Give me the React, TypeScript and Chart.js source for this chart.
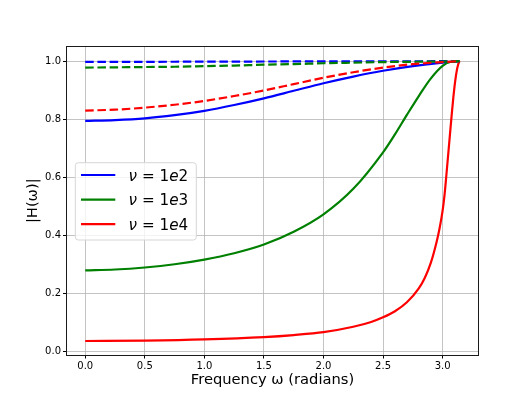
import React, { useEffect, useRef } from 'react';
import { Chart, registerables } from 'chart.js';

Chart.register(...registerables);

const FONT = "'DejaVu Sans', 'Liberation Sans', sans-serif";

// Frequency samples (radians)
const xCoarse = [0, 0.25, 0.5, 0.75, 1.0, 1.25, 1.5, 1.75, 2.0, 2.25, 2.5, 2.75, 3.0, 3.1416];
const xGreen = [0, 0.25, 0.5, 0.75, 1.0, 1.25, 1.5, 1.75, 2.0, 2.25, 2.5, 2.6, 2.7, 2.8, 2.9, 3.0, 3.07, 3.1416];
const xRed = [0, 0.5, 1.0, 1.5, 1.75, 2.0, 2.25, 2.4, 2.5, 2.6, 2.7, 2.8, 2.85, 2.9, 2.95, 2.975, 3.0, 3.015, 3.03, 3.045, 3.06, 3.075, 3.09, 3.105, 3.12, 3.13, 3.1416];

// Solid curves
const blueSolid = [0.794, 0.797, 0.803, 0.814, 0.829, 0.849, 0.872, 0.898, 0.924, 0.947, 0.967, 0.983, 0.995, 1.0];
const greenSolid = [0.279, 0.282, 0.289, 0.300, 0.316, 0.338, 0.368, 0.412, 0.472, 0.560, 0.686, 0.748, 0.815, 0.880, 0.940, 0.984, 0.998, 1.0];
const redSolid = [0.0355, 0.037, 0.041, 0.049, 0.056, 0.066, 0.0845, 0.101, 0.117, 0.138, 0.169, 0.217, 0.253, 0.304, 0.378, 0.425, 0.485, 0.535, 0.6, 0.67, 0.74, 0.81, 0.875, 0.93, 0.97, 0.988, 1.0];

// Dashed curves
const blueDashed = [0.998, 0.998, 0.998, 0.9982, 0.9985, 0.9987, 0.999, 0.9992, 0.9994, 0.9996, 0.9998, 0.9999, 1.0, 1.0];
const greenDashed = [0.978, 0.979, 0.980, 0.981, 0.983, 0.985, 0.988, 0.990, 0.993, 0.995, 0.997, 0.998, 0.999, 1.0];
const redDashed = [0.830, 0.833, 0.840, 0.850, 0.863, 0.880, 0.899, 0.921, 0.943, 0.962, 0.978, 0.990, 0.997, 1.0];

const legendLabels = ['ν = 1e2', 'ν = 1e3', 'ν = 1e4'];
const xTicks = [0, 0.5, 1.0, 1.5, 2.0, 2.5, 3.0];
const xTickLabels = ['0.0', '0.5', '1.0', '1.5', '2.0', '2.5', '3.0'];
const yTicks = [0, 0.2, 0.4, 0.6, 0.8, 1.0];
const yTickLabels = ['0.0', '0.2', '0.4', '0.6', '0.8', '1.0'];

const BLUE = '#0000ff';
const GREEN = '#008000';
const RED = '#ff0000';

function pts(xs: number[], ys: number[]) {
  return xs.map((x, i) => ({ x, y: ys[i] }));
}

function drawMathLabel(ctx: CanvasRenderingContext2D, text: string, x: number, y: number, size: number) {
  let cx = x;
  for (const ch of text) {
    const italic = ch === 'ν' || ch === 'e';
    ctx.font = `${italic ? 'italic ' : ''}${size}px ${FONT}`;
    ctx.fillText(ch, cx, y);
    cx += ctx.measureText(ch).width;
  }
}

const framePlugin = {
  id: 'frameAndLegend',
  afterDatasetsDraw(chart: any) {
    const { ctx, chartArea: ca } = chart;
    ctx.save();
    // frame
    ctx.strokeStyle = '#1a1a1a';
    ctx.lineWidth = 1;
    ctx.strokeRect(Math.round(ca.left) - 0.5, Math.round(ca.top) - 0.5, Math.round(ca.right - ca.left) + 1, Math.round(ca.bottom - ca.top) + 1);

    // legend
    const bx = ca.left + 8.3;
    const by = ca.top + 115.7;
    const bw = 121;
    const bh = 77.3;
    const r = 3;
    ctx.beginPath();
    ctx.moveTo(bx + r, by);
    ctx.lineTo(bx + bw - r, by);
    ctx.quadraticCurveTo(bx + bw, by, bx + bw, by + r);
    ctx.lineTo(bx + bw, by + bh - r);
    ctx.quadraticCurveTo(bx + bw, by + bh, bx + bw - r, by + bh);
    ctx.lineTo(bx + r, by + bh);
    ctx.quadraticCurveTo(bx, by + bh, bx, by + bh - r);
    ctx.lineTo(bx, by + r);
    ctx.quadraticCurveTo(bx, by, bx + r, by);
    ctx.closePath();
    ctx.fillStyle = 'rgba(255,255,255,0.8)';
    ctx.fill();
    ctx.strokeStyle = '#d6d6d6';
    ctx.lineWidth = 1;
    ctx.stroke();

    const solid = chart.data.datasets.filter((d: any) => d.legendIndex !== undefined)
      .sort((a: any, b: any) => a.legendIndex - b.legendIndex);
    solid.forEach((d: any, i: number) => {
      const ly = by + 12.3 + i * 24.6;
      ctx.beginPath();
      ctx.strokeStyle = d.borderColor;
      ctx.lineWidth = 2.2;
      ctx.moveTo(bx + 5.7, ly);
      ctx.lineTo(bx + 40, ly);
      ctx.stroke();
      ctx.fillStyle = '#000';
      ctx.textAlign = 'left';
      ctx.textBaseline = 'alphabetic';
      drawMathLabel(ctx, d.label, bx + 53.3, ly + 5.8, 15.2);
    });
    ctx.restore();
  },
};

export default function App() {
  const ref = useRef<HTMLCanvasElement | null>(null);

  useEffect(() => {
    if (!ref.current) return;
    const common = { showLine: true, pointRadius: 0, pointHoverRadius: 0, fill: false, cubicInterpolationMode: 'monotone' as const, borderWidth: 2.2 };
    const dash = [8.5, 3.7];
    const chart = new Chart(ref.current, {
      type: 'scatter',
      data: {
        datasets: [
          { ...common, label: 'dashed3', data: pts(xCoarse, redDashed), borderColor: RED, backgroundColor: RED, borderDash: dash },
          { ...common, label: 'dashed2', data: pts(xCoarse, greenDashed), borderColor: GREEN, backgroundColor: GREEN, borderDash: dash },
          { ...common, label: 'dashed1', data: pts(xCoarse, blueDashed), borderColor: BLUE, backgroundColor: BLUE, borderDash: dash },
          { ...common, label: legendLabels[2], legendIndex: 2, data: pts(xRed, redSolid), borderColor: RED, backgroundColor: RED },
          { ...common, label: legendLabels[1], legendIndex: 1, data: pts(xGreen, greenSolid), borderColor: GREEN, backgroundColor: GREEN },
          { ...common, label: legendLabels[0], legendIndex: 0, data: pts(xCoarse, blueSolid), borderColor: BLUE, backgroundColor: BLUE },
        ] as any,
      },
      options: {
        animation: false,
        responsive: false,
        devicePixelRatio: 1,
        layout: { padding: { left: 0, right: 54, top: 47, bottom: 0 } },
        plugins: { legend: { display: false }, tooltip: { enabled: false }, title: { display: false } },
        scales: {
          x: {
            type: 'linear',
            min: -0.153,
            max: 3.297,
            afterBuildTicks: (axis: any) => { axis.ticks = xTicks.map((v) => ({ value: v })); },
            afterFit: (axis: any) => { axis.height = 44.5; },
            ticks: {
              callback: (_v: any, i: number) => xTickLabels[i],
              font: { family: FONT, size: 10 },
              color: '#000',
              padding: 2,
              maxRotation: 0,
              autoSkip: false,
            },
            grid: { color: 'rgba(176,176,176,0.75)', lineWidth: 1, tickColor: '#000', tickLength: 4, tickWidth: 1 },
            border: { display: false },
            title: { display: true, text: 'Frequency ω (radians)', font: { family: FONT, size: 14.7 }, color: '#000', padding: { top: 0, bottom: 10.3 } },
          },
          y: {
            type: 'linear',
            min: -0.011,
            max: 1.049,
            afterBuildTicks: (axis: any) => { axis.ticks = yTicks.map((v) => ({ value: v })); },
            afterFit: (axis: any) => { axis.width = 67; },
            ticks: {
              callback: (_v: any, i: number) => yTickLabels[i],
              font: { family: FONT, size: 10 },
              color: '#000',
              padding: 2,
              autoSkip: false,
            },
            grid: { color: 'rgba(176,176,176,0.75)', lineWidth: 1, tickColor: '#000', tickLength: 4, tickWidth: 1 },
            border: { display: false },
            title: { display: true, text: '|H(ω)|', font: { family: FONT, size: 14.7 }, color: '#000', padding: { top: 24.5, bottom: 0 } },
          },
        },
      } as any,
      plugins: [framePlugin],
    });
    return () => chart.destroy();
  }, []);

  return (
    <div style={{ position: 'fixed', left: 0, top: 0, width: 532, height: 399, background: '#fff' }}>
      <canvas ref={ref} width={532} height={399} style={{ width: 532, height: 399, display: 'block' }} />
    </div>
  );
}
